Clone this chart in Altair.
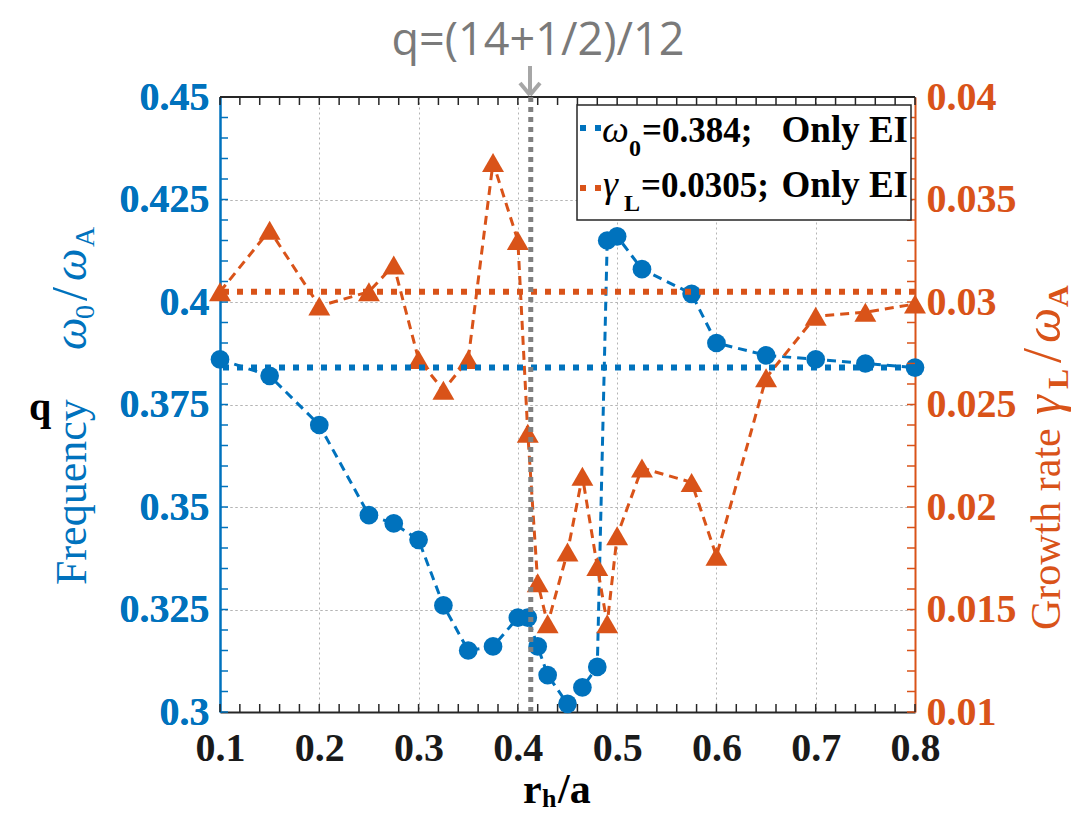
import altair as alt
import pandas as pd

# ---------------- data ----------------
r_freq = [0.1, 0.15, 0.2, 0.25, 0.275, 0.3, 0.325, 0.35, 0.375, 0.4, 0.41, 0.42, 0.43,
          0.45, 0.465, 0.48, 0.49, 0.5, 0.525, 0.575, 0.6, 0.65, 0.7, 0.75, 0.8]
freq = [0.386, 0.382, 0.370, 0.348, 0.346, 0.342, 0.326, 0.315, 0.316, 0.323, 0.323, 0.316, 0.309,
        0.302, 0.306, 0.311, 0.415, 0.416, 0.408, 0.402, 0.390, 0.387, 0.386, 0.385, 0.384]
r_gamma = [0.1, 0.15, 0.2, 0.25, 0.275, 0.3, 0.325, 0.35, 0.375, 0.4, 0.41, 0.42, 0.43,
           0.45, 0.465, 0.48, 0.49, 0.5, 0.525, 0.575, 0.6, 0.65, 0.7, 0.75, 0.8]
gamma = [0.0305, 0.0335, 0.0298, 0.0305, 0.0318, 0.0272, 0.0257, 0.0272, 0.0368, 0.0330, 0.0236, 0.0163, 0.0143,
         0.0178, 0.0215, 0.0171, 0.0143, 0.0186, 0.0219, 0.0212, 0.0176, 0.0263, 0.0293, 0.0295, 0.0299]
omega0_ref = [0.384]
gammaL_ref = [0.0305]
q_position = [0.413]

x_major = [0.1, 0.2, 0.3, 0.4, 0.5, 0.6, 0.7, 0.8]
left_major = [0.3, 0.325, 0.35, 0.375, 0.4, 0.425, 0.45]
right_major = [0.01, 0.015, 0.02, 0.025, 0.03, 0.035, 0.04]
x_minor = [round(0.1 + 0.02 * i, 3) for i in range(36)]
left_minor = [round(0.3 + 0.005 * i, 4) for i in range(31)]
right_minor = [round(0.01 + 0.001 * i, 4) for i in range(31)]

# ---------------- styling ----------------
BLUE = "#0072BD"
ORANGE = "#D95319"
GRAY = "#808080"
SERIF = "'Liberation Serif', 'Times New Roman', Times, serif"
W, H = 695, 615

xs = alt.Scale(domain=[0.1, 0.8], nice=False, zero=False)
yl = alt.Scale(domain=[0.3, 0.45], nice=False, zero=False)
yr = alt.Scale(domain=[0.01, 0.04], nice=False, zero=False)

x_axis = alt.Axis(values=x_major, labelExpr="datum.value + ''", labelFont=SERIF, labelFontSize=40,
                  labelFontWeight="bold", labelColor="#1a1a1a", domainColor="#262626", domainWidth=2,
                  ticks=False, grid=True, gridColor="#b4b4b4", gridDash=[2, 3], gridWidth=1,
                  title=None, labelPadding=16, labelFlush=False, labelOverlap=False)
left_axis = alt.Axis(values=left_major, labelExpr="datum.value + ''", labelFont=SERIF, labelFontSize=40,
                     labelFontWeight="bold", labelColor=BLUE, domainColor=BLUE, domainWidth=2,
                     ticks=False, grid=True, gridColor="#b4b4b4", gridDash=[2, 3], gridWidth=1,
                     title=None, labelPadding=11, orient="left", labelFlush=False, labelOverlap=False)
right_axis = alt.Axis(values=right_major, labelExpr="datum.value + ''", labelFont=SERIF, labelFontSize=40,
                      labelFontWeight="bold", labelColor=ORANGE, domainColor=ORANGE, domainWidth=2,
                      ticks=False, grid=False, title=None, labelPadding=11, orient="right",
                      labelFlush=False, labelOverlap=False)

freq_df = pd.DataFrame({"r": r_freq, "v": freq})
gamma_df = pd.DataFrame({"r": r_gamma, "v": gamma})


def X():
    return alt.X("r:Q", scale=xs, axis=x_axis)


def YL():
    return alt.Y("v:Q", scale=yl, axis=left_axis)


def YR():
    return alt.Y("v:Q", scale=yr, axis=right_axis)


# ---------------- left (frequency) group ----------------
left_ticks = alt.Chart(pd.DataFrame({"v": left_minor})).mark_rule(color=BLUE, strokeWidth=1.5).encode(
    y=YL(), x=alt.value(0), x2=alt.value(8))
blue_line = alt.Chart(freq_df).mark_line(color=BLUE, strokeWidth=3, strokeDash=[9, 6]).encode(x=X(), y=YL())
blue_pts = alt.Chart(freq_df).mark_circle(color=BLUE, size=350, opacity=1).encode(x=X(), y=YL())
blue_ref = alt.Chart(pd.DataFrame({"v": omega0_ref})).mark_rule(
    color=BLUE, strokeWidth=6, strokeDash=[6, 8]).encode(y=YL())
left_group = alt.layer(left_ticks, blue_line, blue_pts)

# ---------------- right (growth rate) group ----------------
right_ticks = alt.Chart(pd.DataFrame({"v": right_minor})).mark_rule(color=ORANGE, strokeWidth=1.5).encode(
    y=YR(), x=alt.value(W), x2=alt.value(W - 8))
orange_line = alt.Chart(gamma_df).mark_line(color=ORANGE, strokeWidth=3, strokeDash=[9, 6]).encode(x=X(), y=YR())
orange_pts = alt.Chart(gamma_df).mark_point(shape="triangle-up", filled=True, size=480, color=ORANGE,
                                             opacity=1).encode(x=X(), y=YR())
orange_ref = alt.Chart(pd.DataFrame({"v": gammaL_ref})).mark_rule(
    color=ORANGE, strokeWidth=6, strokeDash=[6, 8]).encode(y=YR())
right_group = alt.layer(right_ticks, orange_line, orange_pts, orange_ref)

left_ref_group = alt.layer(blue_ref)

# ---------------- x decorations ----------------
xminor_df = pd.DataFrame({"r": x_minor})
bottom_ticks = alt.Chart(xminor_df).mark_rule(color="#262626", strokeWidth=1.5).encode(
    x=X(), y=alt.value(H), y2=alt.value(H - 8))
top_ticks = alt.Chart(xminor_df).mark_rule(color="#262626", strokeWidth=1.5).encode(
    x=X(), y=alt.value(0), y2=alt.value(8))
one = pd.DataFrame({"k": [0]})
top_border = alt.Chart(one).mark_rule(color="#262626", strokeWidth=2).encode(
    x=alt.value(0), x2=alt.value(W), y=alt.value(0))
q_line = alt.Chart(pd.DataFrame({"r": q_position})).mark_rule(
    color=GRAY, strokeWidth=5, strokeDash=[5, 5]).encode(x=X())


def txt(s, x, y, size, color="#000000", weight="normal", style="normal", angle=0,
        align="left", baseline="alphabetic", font=SERIF):
    return alt.Chart(one).mark_text(text=s, font=font, fontSize=size, fontWeight=weight, fontStyle=style,
                                    color=color, angle=angle, align=align, baseline=baseline).encode(
        x=alt.value(x), y=alt.value(y))


def seg(x1, y1, x2, y2, color, width, dash=None):
    kw = dict(color=color, strokeWidth=width)
    if dash:
        kw["strokeDash"] = dash
    return alt.Chart(one).mark_rule(**kw).encode(
        x=alt.value(x1), y=alt.value(y1), x2=alt.value(x2), y2=alt.value(y2))


# legend
legend_box = alt.Chart(one).mark_rect(fill="white", stroke="#262626", strokeWidth=1.5).encode(
    x=alt.value(357), x2=alt.value(691), y=alt.value(8), y2=alt.value(123))
legend = [
    legend_box,
    seg(360, 31, 381, 31, BLUE, 6, [6, 9]),
    txt("ω", 382, 45, 38, style="italic"),
    txt("0", 409, 59, 24, weight="bold"),
    txt("=0.384;", 422, 45, 35, weight="bold"),
    txt("Only EI", 688, 45, 37, weight="bold", align="right"),
    seg(360, 91, 381, 91, ORANGE, 6, [6, 9]),
    txt("γ", 383, 100, 38, style="italic"),
    txt("L", 404, 114, 24, weight="bold"),
    txt("=0.0305;", 421, 100, 35, weight="bold"),
    txt("Only EI", 688, 100, 37, weight="bold", align="right"),
]

# top annotation with arrow
annot = [
    txt("q=(14+1/2)/12", 318, -42, 45, color="#7a7a7a", align="center", font="Open Sans"),
    seg(310, -31, 310, -4, "#a6a6a6", 4),
    seg(310, -2, 300, -14, "#a6a6a6", 4),
    seg(310, -2, 320, -14, "#a6a6a6", 4),
]

# axis titles built from pieces (sub-scripts)
titles = [
    txt("q", -180, 323, 40, weight="bold", align="center"),
    txt("Frequency", -134, 488, 44, color=BLUE, angle=270),
    txt("ω", -134, 253, 46, color=BLUE, angle=270, style="italic"),
    txt("0", -126, 222, 28, color=BLUE, angle=270),
    txt("/", -134, 204, 50, color=BLUE, angle=270),
    txt("ω", -134, 184, 46, color=BLUE, angle=270, style="italic"),
    txt("A", -126, 150, 28, color=BLUE, angle=270),
    txt("Growth rate", 840, 533, 42, color=ORANGE, angle=270),
    txt("γ", 840, 318, 50, color=ORANGE, angle=270, style="italic"),
    txt("L", 848, 292, 30, color=ORANGE, angle=270, weight="bold"),
    txt("/", 840, 266, 54, color=ORANGE, angle=270),
    txt("ω", 840, 246, 50, color=ORANGE, angle=270, style="italic"),
    txt("A", 848, 210, 30, color=ORANGE, angle=270, weight="bold"),
    txt("r", 303, 706, 42, weight="bold"),
    txt("h", 322, 710, 26, weight="bold"),
    txt("/a", 338, 706, 42, weight="bold"),
]

chart = alt.layer(
    left_group, right_group, left_ref_group,
    bottom_ticks, top_ticks, top_border, q_line,
    *legend, *annot, *titles,
).resolve_scale(y="independent").properties(
    width=W, height=H,
    autosize=alt.AutoSizeParams(type="none"),
    padding={"left": 212, "top": 89, "right": 159, "bottom": 102},
    background="white",
).configure_view(stroke=None)

chart.save("out.html", embed_options={"renderer": "svg", "actions": False})
